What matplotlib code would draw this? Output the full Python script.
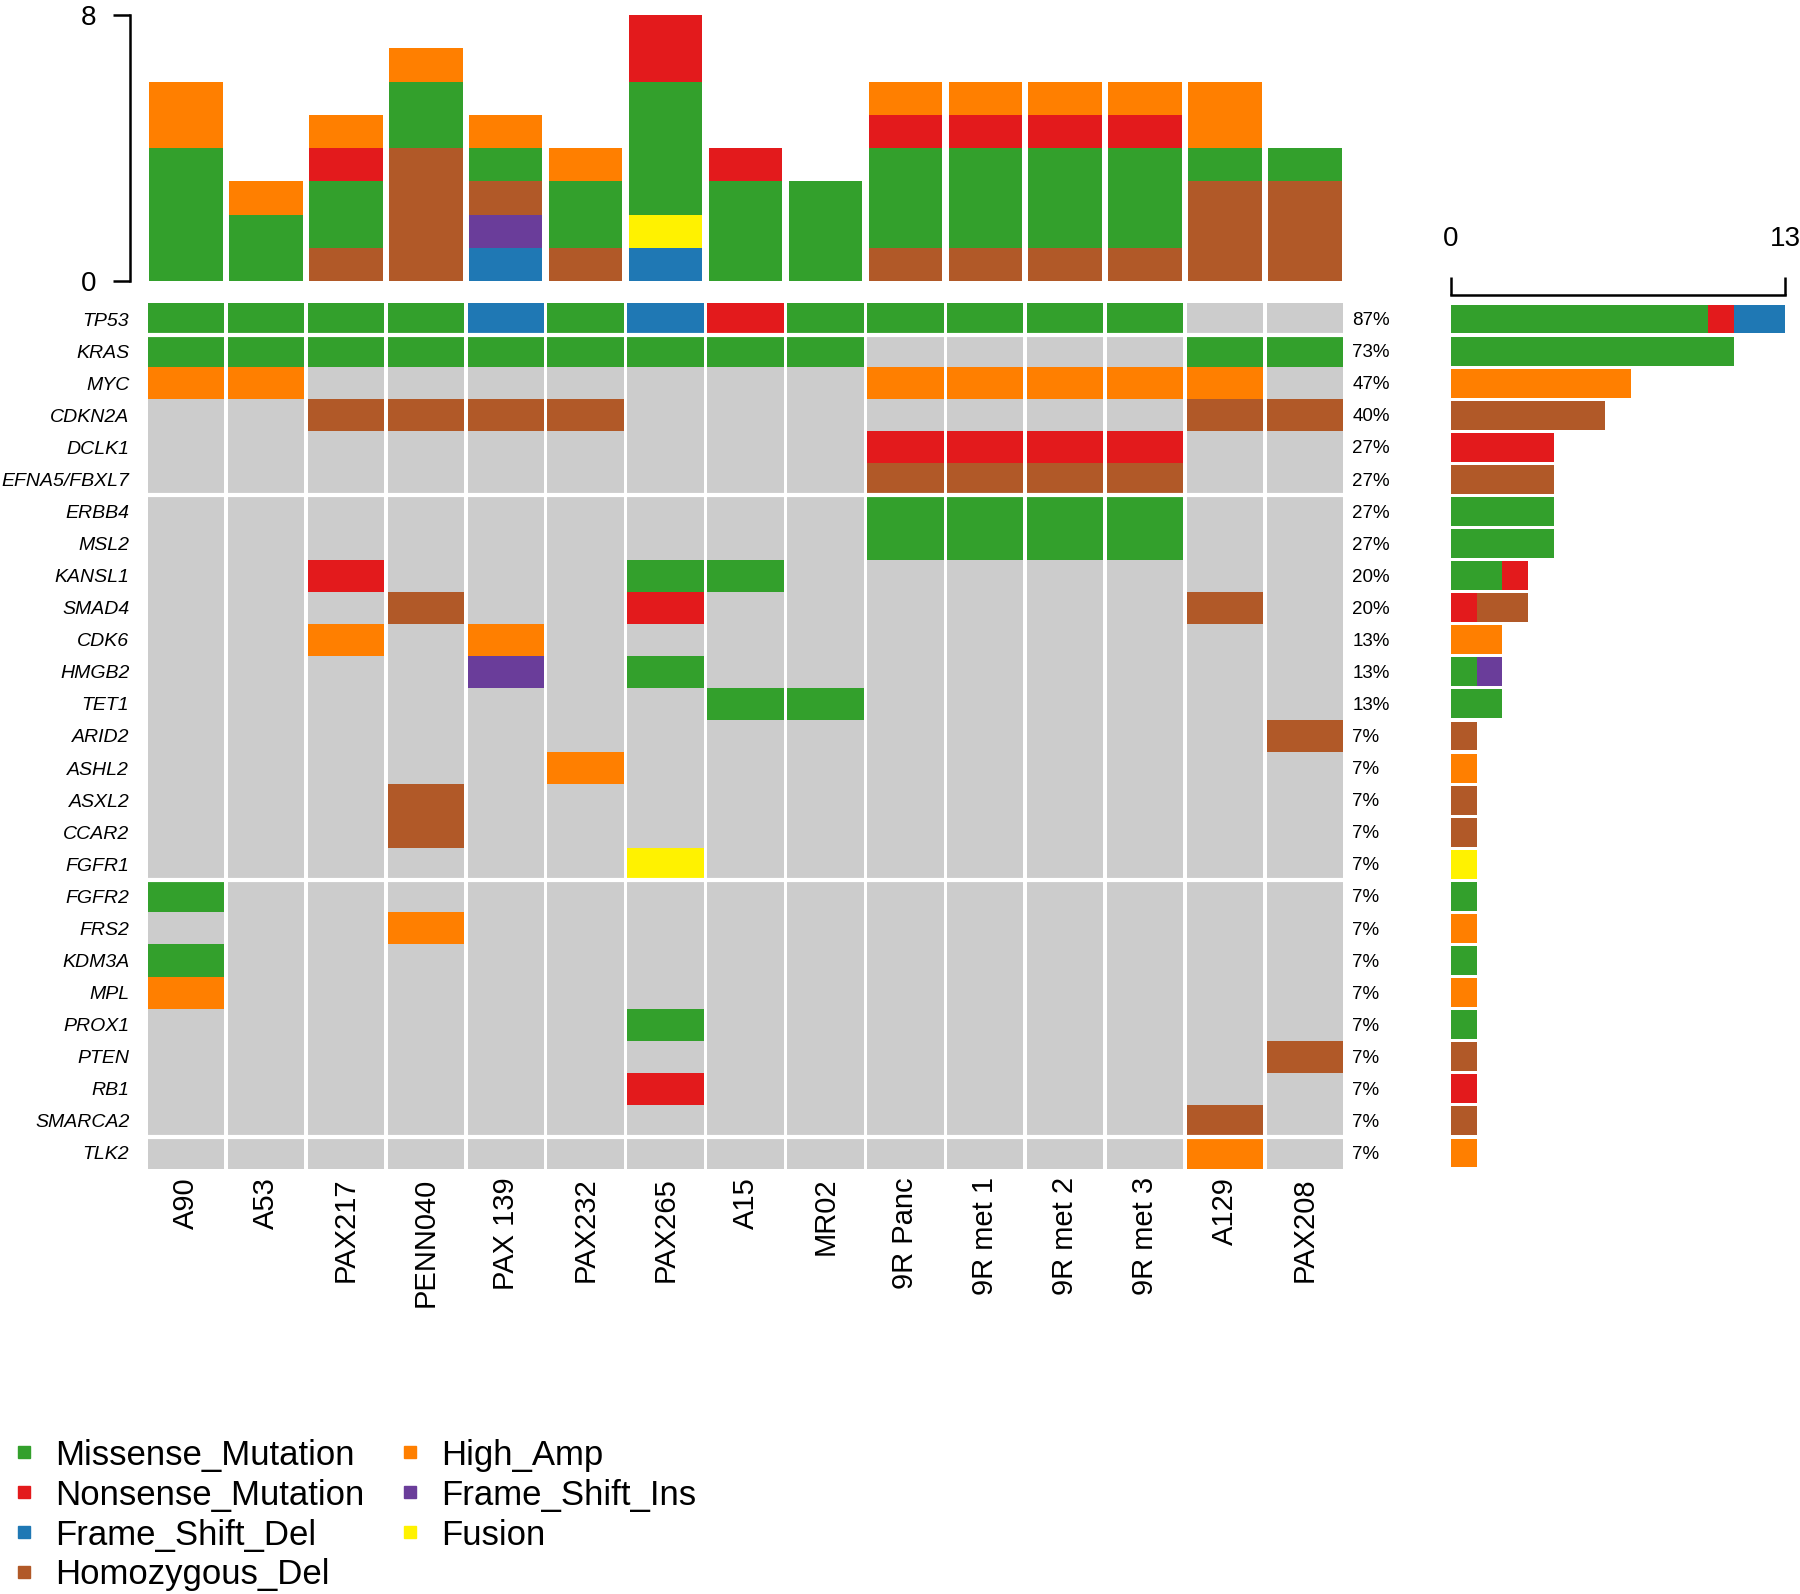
import numpy as np
import matplotlib
matplotlib.use('Agg')
import matplotlib.pyplot as plt
from matplotlib.lines import Line2D

plt.rcParams['font.family'] = ['Liberation Sans', 'DejaVu Sans']

samples = ['A90', 'A53', 'PAX217', 'PENN040', 'PAX 139', 'PAX232', 'PAX265', 'A15',
           'MR02', '9R Panc', '9R met 1', '9R met 2', '9R met 3', 'A129', 'PAX208']

genes = ['TP53', 'KRAS', 'MYC', 'CDKN2A', 'DCLK1', 'EFNA5/FBXL7', 'ERBB4', 'MSL2',
         'KANSL1', 'SMAD4', 'CDK6', 'HMGB2', 'TET1', 'ARID2', 'ASHL2', 'ASXL2', 'CCAR2',
         'FGFR1', 'FGFR2', 'FRS2', 'KDM3A', 'MPL', 'PROX1', 'PTEN', 'RB1', 'SMARCA2', 'TLK2']

# one character per sample, same order as samples
# M missense, N nonsense, D frame shift del, I frame shift ins,
# H homozygous del, A high amp, F fusion, . nothing
calls = ['MMMMDMDNMMMMM..',   # TP53
         'MMMMMMMMM....MM',   # KRAS
         'AA.......AAAAA.',   # MYC
         '..HHHH.......HH',   # CDKN2A
         '.........NNNN..',   # DCLK1
         '.........HHHH..',   # EFNA5/FBXL7
         '.........MMMM..',   # ERBB4
         '.........MMMM..',   # MSL2
         '..N...MM.......',   # KANSL1
         '...H..N......H.',   # SMAD4
         '..A.A..........',   # CDK6
         '....I.M........',   # HMGB2
         '.......MM......',   # TET1
         '..............H',   # ARID2
         '.....A.........',   # ASHL2
         '...H...........',   # ASXL2
         '...H...........',   # CCAR2
         '......F........',   # FGFR1
         'M..............',   # FGFR2
         '...A...........',   # FRS2
         'M..............',   # KDM3A
         'A..............',   # MPL
         '......M........',   # PROX1
         '..............H',   # PTEN
         '......N........',   # RB1
         '.............H.',   # SMARCA2
         '.............A.']   # TLK2

codes = ['M', 'N', 'D', 'H', 'A', 'I', 'F']
labels = ['Missense_Mutation', 'Nonsense_Mutation', 'Frame_Shift_Del', 'Homozygous_Del',
          'High_Amp', 'Frame_Shift_Ins', 'Fusion']
colors = {'M': '#33A02C', 'N': '#E31A1C', 'D': '#1F78B4', 'H': '#B15928',
          'A': '#FF7F00', 'I': '#6A3D9A', 'F': '#FFF200'}
gray = '#CCCCCC'

top_order = ['D', 'I', 'F', 'H', 'M', 'N', 'A']     # stacking, bottom -> top
side_order = ['M', 'N', 'D', 'I', 'H', 'A', 'F']    # stacking, left -> right
breaks = [1, 6, 18, 26]  # white lines under these rows

W, H = 1800, 1594
fig = plt.figure(figsize=(W / 100, H / 100), dpi=100)

def box(x0, y0, x1, y1):
    return [x0 / W, 1 - y1 / H, (x1 - x0) / W, (y1 - y0) / H]

n_s, n_g = len(samples), len(genes)
mx0, mx1, my0, my1 = 146, 1345, 303, 1169

# oncoprint matrix
ax = fig.add_axes(box(mx0, my0, mx1, my1))
for i, row in enumerate(calls):
    for j, c in enumerate(row):
        ax.bar(j, 1, bottom=i, width=0.955, color=colors.get(c, gray), linewidth=0)
for b in breaks:
    ax.axhline(b, color='white', lw=3)
ax.set_xlim(-0.5, n_s - 0.5)
ax.set_ylim(n_g, 0)
ax.set_yticks(np.arange(n_g) + 0.5)
ax.set_yticklabels(genes, style='italic', fontsize=14)
ax.set_xticks(np.arange(n_s))
ax.set_xticklabels(samples, rotation=90, fontsize=21)
ax.tick_params(axis='y', length=0, pad=12)
ax.tick_params(axis='x', length=0, pad=6)
for s in ax.spines.values():
    s.set_visible(False)

counts = [sum(c != '.' for c in row) for row in calls]
for i, n in enumerate(counts):
    ax.text(n_s - 0.41, i + 0.55, '%d%%' % round(100 * n / n_s), fontsize=13.5,
            ha='left', va='center')

# top bar: alterations per sample
axt = fig.add_axes(box(mx0, 15, mx1, 281))
bottom = np.zeros(n_s)
for c in top_order:
    v = np.array([sum(row[j] == c for row in calls) for j in range(n_s)])
    axt.bar(np.arange(n_s), v, bottom=bottom, width=0.92, color=colors[c], linewidth=0)
    bottom += v
axt.set_xlim(-0.5, n_s - 0.5)
axt.set_ylim(0, 8)
axt.set_yticks([0, 8])
axt.set_xticks([])
for k in ['top', 'right', 'bottom']:
    axt.spines[k].set_visible(False)
axt.spines['left'].set_position(('outward', 11.5))
axt.spines['left'].set_linewidth(1.8)
axt.tick_params(axis='y', labelsize=20, length=12, width=1.8, pad=12)

# side bar: alterations per gene
axr = fig.add_axes(box(1451, my0, 1785, my1))
left = np.zeros(n_g)
for c in side_order:
    v = np.array([row.count(c) for row in calls])
    axr.barh(np.arange(n_g) + 0.5, v, left=left, height=0.9, color=colors[c], linewidth=0)
    left += v
axr.set_ylim(n_g, 0)
axr.set_xlim(0, n_s - 2)
axr.set_xticks([0, 13])
axr.set_yticks([])
axr.xaxis.tick_top()
for k in ['bottom', 'right', 'left']:
    axr.spines[k].set_visible(False)
axr.spines['top'].set_position(('outward', 6))
axr.spines['top'].set_linewidth(1.8)
axr.tick_params(axis='x', labelsize=20, length=13, width=1.8, pad=18)

# legend
handles = [Line2D([], [], ls='', marker='s', markersize=9, color=colors[c]) for c in codes]
fig.legend(handles, labels, ncol=2, loc='upper left', bbox_to_anchor=(0.0, 0.104),
           frameon=False, fontsize=25, handlelength=0.8, handletextpad=0.5,
           columnspacing=0.9, labelspacing=0.2, borderpad=0, borderaxespad=0.3)

fig.savefig('out.png', dpi=100)
